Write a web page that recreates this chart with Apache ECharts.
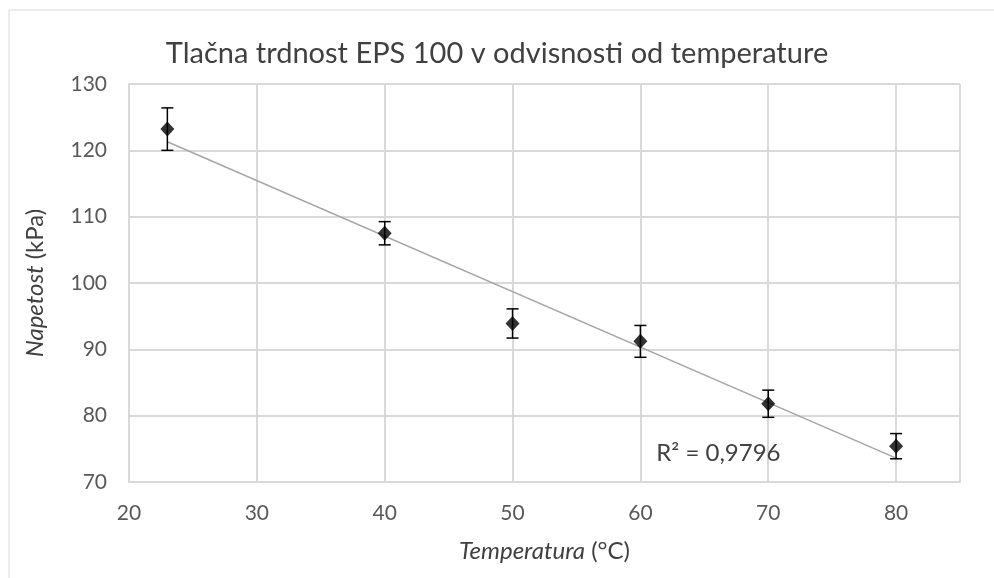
<!DOCTYPE html>
<html>
<head>
<meta charset="utf-8">
<script src="https://cdn.jsdelivr.net/npm/echarts@6/dist/echarts.min.js"></script>
<style>
  html, body { margin: 0; padding: 0; background: #fff; }
  #chart { width: 994px; height: 578px; }
</style>
</head>
<body>
<div id="chart"></div>
<script>
const temperatures = [23, 40, 50, 60, 70, 80];
const stress = [123.2, 107.5, 93.9, 91.2, 81.8, 75.4];
const stressErr = [3.2, 1.75, 2.2, 2.4, 2.05, 1.9];
// linear trend line end points, as drawn in the picture
const trendX = [23, 80];
const trendY = [121.3, 73.6];
const xTicks = [20, 30, 40, 50, 60, 70, 80];
const yTicks = [70, 80, 90, 100, 110, 120, 130];
const r2Text = 'R² = 0,9796';

const font = 'Lato';
const chart = echarts.init(document.getElementById('chart'));

const points = temperatures.map((t, i) => [t, stress[i]]);
const errData = temperatures.map((t, i) => [t, stress[i] - stressErr[i], stress[i] + stressErr[i]]);
const trendData = trendX.map((t, i) => [t, trendY[i]]);

const nameStyle = {
  fontFamily: font, fontSize: 24, color: '#404040',
  rich: { i: { fontFamily: font, fontSize: 24, fontStyle: 'italic', color: '#404040' } }
};

const option = {
  animation: false,
  backgroundColor: '#fff',
  title: {
    text: 'Tlačna trdnost EPS 100 v odvisnosti od temperature',
    left: 'center',
    top: 34,
    textStyle: { fontFamily: font, fontSize: 29, fontWeight: 'normal', color: '#404040' }
  },
  graphic: [
    {
      type: 'rect', silent: true, z: -1,
      shape: { x: 9, y: 10, width: 1000, height: 600 },
      style: { fill: null, stroke: '#d9d9d9', lineWidth: 1 }
    }
  ],
  grid: { left: 129, right: 34, top: 84, bottom: 96 },
  xAxis: {
    type: 'value',
    min: xTicks[0],
    max: 85,
    interval: 10,
    name: '{i|Temperatura} (°C)',
    nameLocation: 'middle',
    nameGap: 57,
    nameTextStyle: nameStyle,
    axisLine: { show: true, lineStyle: { color: '#d9d9d9', width: 2 } },
    axisTick: { show: false },
    axisLabel: { margin: 21, fontFamily: font, fontSize: 21, color: '#595959', showMaxLabel: false },
    splitLine: { show: true, lineStyle: { color: '#d9d9d9', width: 2 } }
  },
  yAxis: {
    type: 'value',
    min: yTicks[0],
    max: yTicks[yTicks.length - 1],
    interval: 10,
    name: '{i|Napetost} (kPa)',
    nameLocation: 'middle',
    nameGap: 82,
    nameTextStyle: nameStyle,
    axisLine: { show: true, lineStyle: { color: '#d9d9d9', width: 2 } },
    axisTick: { show: false },
    axisLabel: { margin: 22, fontFamily: font, fontSize: 21, color: '#595959' },
    splitLine: { show: true, lineStyle: { color: '#d9d9d9', width: 2 } }
  },
  series: [
    {
      name: 'trend',
      type: 'line',
      data: trendData,
      symbol: 'none',
      lineStyle: { color: '#a6a6a6', width: 1.5 },
      z: 2,
      markPoint: {
        symbol: 'circle',
        symbolSize: 0,
        data: [{ coord: [66.1, 74.4], value: r2Text }],
        label: { show: true, formatter: r2Text, fontFamily: font, fontSize: 24, color: '#404040' }
      }
    },
    {
      name: 'error',
      type: 'custom',
      data: errData,
      z: 3,
      renderItem: function (params, api) {
        const x = api.value(0);
        const lo = api.coord([x, api.value(1)]);
        const hi = api.coord([x, api.value(2)]);
        const cap = 6;
        const style = { stroke: '#000', lineWidth: 1.5 };
        return {
          type: 'group',
          children: [
            { type: 'line', shape: { x1: lo[0], y1: lo[1], x2: hi[0], y2: hi[1] }, style: style },
            { type: 'line', shape: { x1: lo[0] - cap, y1: lo[1], x2: lo[0] + cap, y2: lo[1] }, style: style },
            { type: 'line', shape: { x1: hi[0] - cap, y1: hi[1], x2: hi[0] + cap, y2: hi[1] }, style: style }
          ]
        };
      }
    },
    {
      name: 'stress',
      type: 'scatter',
      data: points,
      symbol: 'diamond',
      symbolSize: [14, 15],
      itemStyle: { color: '#000' },
      z: 4
    }
  ]
};
chart.setOption(option);
</script>
</body>
</html>
